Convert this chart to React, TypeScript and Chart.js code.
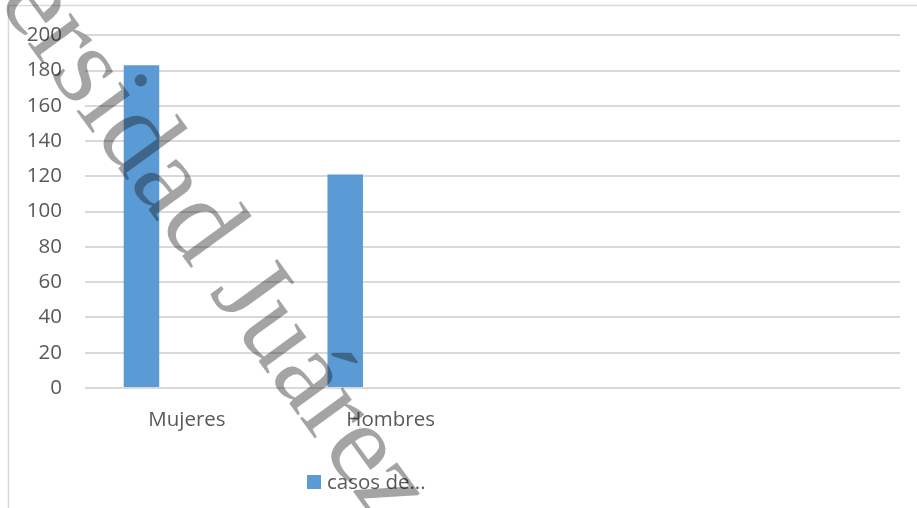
import React, { useEffect, useRef } from "react";
import { Chart, registerables } from "chart.js";

Chart.register(...registerables);

// ---- data ----
const categories: string[] = ["Mujeres", "Hombres", "", ""];
const casosValues: (number | null)[] = [183, 121, null, null];
const emptySeries1: (number | null)[] = [null, null, null, null];
const emptySeries2: (number | null)[] = [null, null, null, null];
const seriesName = "casos de...";
const yMin = 0;
const yMax = 200;
const yStep = 20;
const watermarkText = "Universidad Juárez";

const FONT = '"Open Sans", "Noto Sans", sans-serif';
const TEXT_COLOR = "#595959";
const GRID_COLOR = "#d9d9d9";
const BAR_COLOR = "#5b9bd5";

const decorPlugin = {
  id: "decor",
  beforeDraw(chart: any) {
    const ctx = chart.ctx;
    ctx.save();
    ctx.fillStyle = "#ffffff";
    ctx.fillRect(0, 0, chart.width, chart.height);
    ctx.strokeStyle = GRID_COLOR;
    ctx.lineWidth = 1.5;
    ctx.beginPath();
    ctx.moveTo(8.5, chart.height);
    ctx.lineTo(8.5, 5.5);
    ctx.lineTo(chart.width, 5.5);
    ctx.stroke();
    ctx.restore();
  },
  afterDraw(chart: any) {
    const ctx = chart.ctx;
    // legend
    ctx.save();
    ctx.fillStyle = BAR_COLOR;
    ctx.fillRect(307, 475, 14, 14);
    ctx.fillStyle = TEXT_COLOR;
    ctx.font = `20.5px ${FONT}`;
    ctx.textBaseline = "alphabetic";
    ctx.textAlign = "left";
    ctx.fillText(chart.data.datasets[0].label, 327, 489);
    ctx.restore();
    // watermark
    ctx.save();
    ctx.translate(-138.7, -185.4);
    ctx.rotate((54 * Math.PI) / 180);
    ctx.font = '115px "Liberation Serif", "DejaVu Serif", serif';
    ctx.fillStyle = "rgba(15,15,15,0.38)";
    ctx.textBaseline = "alphabetic";
    ctx.textAlign = "left";
    ctx.fillText(watermarkText, 0, 0);
    ctx.restore();
  },
};

export default function App() {
  const canvasRef = useRef<HTMLCanvasElement | null>(null);

  useEffect(() => {
    if (!canvasRef.current) return;
    const chart = new Chart(canvasRef.current, {
      type: "bar",
      data: {
        labels: categories,
        datasets: [
          {
            label: seriesName,
            data: casosValues,
            backgroundColor: BAR_COLOR,
            categoryPercentage: 0.6685,
            barPercentage: 0.782,
          },
          {
            label: "",
            data: emptySeries1,
            backgroundColor: BAR_COLOR,
            categoryPercentage: 0.6685,
            barPercentage: 0.782,
          },
          {
            label: "",
            data: emptySeries2,
            backgroundColor: BAR_COLOR,
            categoryPercentage: 0.6685,
            barPercentage: 0.782,
          },
        ],
      } as any,
      options: {
        responsive: false,
        animation: false,
        maintainAspectRatio: false,
        layout: { padding: { left: 0, right: 17, top: 34, bottom: 0 } },
        plugins: {
          legend: { display: false },
          tooltip: { enabled: false },
          title: { display: false },
        },
        scales: {
          x: {
            grid: { display: false, drawTicks: false },
            border: { display: false },
            ticks: {
              color: TEXT_COLOR,
              font: { family: FONT, size: 20.5 },
              padding: 20,
              maxRotation: 0,
              autoSkip: false,
            },
            afterFit(scale: any) {
              scale.height = 120;
            },
          },
          y: {
            min: yMin,
            max: yMax,
            grid: { color: GRID_COLOR, lineWidth: 2, drawTicks: false },
            border: { display: false },
            ticks: {
              stepSize: yStep,
              color: TEXT_COLOR,
              font: { family: FONT, size: 20.5 },
              padding: 23,
            },
            afterFit(scale: any) {
              scale.width = 85;
            },
          },
        },
      },
      plugins: [decorPlugin],
    } as any);
    return () => chart.destroy();
  }, []);

  return (
    <div style={{ position: "fixed", left: 0, top: 0, width: 917, height: 508, background: "#fff" }}>
      <canvas ref={canvasRef} width={917} height={508} style={{ display: "block", width: 917, height: 508 }} />
    </div>
  );
}
